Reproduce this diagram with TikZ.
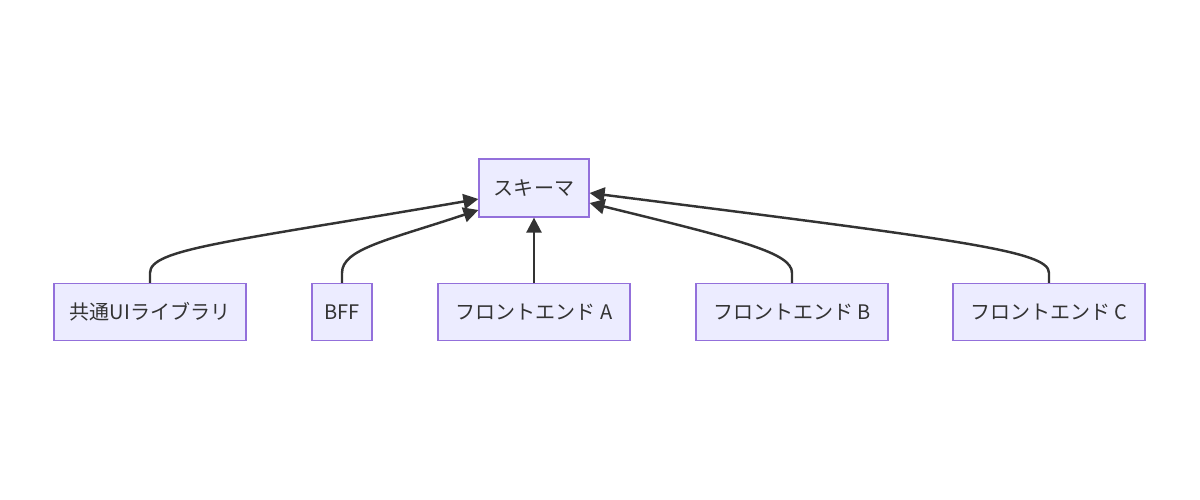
\documentclass[tikz,border=0pt]{standalone}
\usepackage{fontspec}
\setmainfont{Noto Sans CJK JP}
\usepackage{xcolor}
\usetikzlibrary{arrows.meta}
\definecolor{nodefill}{HTML}{ECECFF}
\definecolor{nodeline}{HTML}{9370DB}
\definecolor{edgeline}{HTML}{333333}

\begin{document}
\begin{tikzpicture}[x=0.02cm, y=-0.02cm,
    box/.style={draw=nodeline, fill=nodefill, line width=0.7pt, rectangle, minimum height=1.14cm, inner sep=0pt, text=edgeline, font=\fontsize{11.4}{13}\selectfont},
    link/.style={draw=edgeline, line width=1.4pt, -{Triangle[length=3mm,width=3mm]}}]
      \useasboundingbox (0,0) rectangle (1200,500);

      % Schema node
      \node[box, minimum width=2.2cm, minimum height=1.16cm] (schema) at (534,188) {スキーマ};

      % Client nodes
      \node[box, minimum width=3.84cm] (uilib) at (150,312) {共通UIライブラリ};
      \node[box, minimum width=1.2cm] (bff) at (342,312) {BFF};
      \node[box, minimum width=3.84cm] (frontA) at (534,312) {フロントエンド A};
      \node[box, minimum width=3.84cm] (frontB) at (792,312) {フロントエンド B};
      \node[box, minimum width=3.84cm] (frontC) at (1049,312) {フロントエンド C};

      % Arrows
      \draw[link] (uilib.north) -- ++(0,-10) .. controls +(0,-24) and +(-250,43) .. ([yshift=-0.22cm]schema.west);
      \draw[link] (bff.north) -- ++(0,-10) .. controls +(0,-24) and +(-90,30) .. ([yshift=-0.44cm]schema.west);
      \draw[link] (frontA.north) -- (schema.south);
      \draw[link] (frontB.north) -- ++(0,-10) .. controls +(0,-20) and +(151,37) .. ([yshift=-0.30cm]schema.east);
      \draw[link] (frontC.north) -- ++(0,-10) .. controls +(0,-22) and +(371,47) .. ([yshift=-0.10cm]schema.east);
    \end{tikzpicture}
\end{document}
